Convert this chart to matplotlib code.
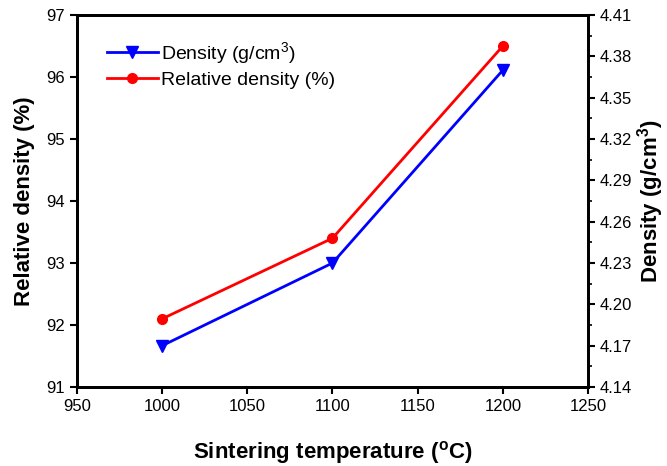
import matplotlib
matplotlib.use("Agg")
import matplotlib.pyplot as plt
from matplotlib.ticker import MultipleLocator, AutoMinorLocator
from matplotlib.lines import Line2D

plt.rcParams['font.family'] = ['Liberation Sans', 'DejaVu Sans']

temps = [1000, 1100, 1200]
rel_density = [92.1, 93.4, 96.5]
density = [4.17, 4.23, 4.37]

fig = plt.figure(figsize=(6.67, 4.66), dpi=100)
ax = fig.add_axes([0.1154, 0.1695, 0.7662, 0.7983])
ax2 = ax.twinx()

ax.plot(temps, rel_density, color='red', marker='o', markersize=7, lw=2, zorder=3)
ax2.plot(temps, density, color='blue', marker='v', markersize=9, lw=2, zorder=3)

ax.set_xlim(950, 1250)
ax.set_ylim(91, 97)
ax2.set_ylim(4.14, 4.41)
ax.xaxis.set_major_locator(MultipleLocator(50))
ax.yaxis.set_major_locator(MultipleLocator(1))
ax2.yaxis.set_major_locator(MultipleLocator(0.03))
ax2.yaxis.set_minor_locator(AutoMinorLocator(2))
ax2.yaxis.set_major_formatter(matplotlib.ticker.FormatStrFormatter('%.2f'))

for a in (ax, ax2):
    for s in a.spines.values():
        s.set_linewidth(2)
ax.tick_params(axis='both', which='major', direction='out', length=5, width=1.5, labelsize=12)
ax2.tick_params(axis='y', which='major', direction='out', length=5, width=1.5, labelsize=12)
ax2.tick_params(axis='y', which='minor', direction='out', length=3, width=1.2)

ax.set_xlabel('Sintering temperature ($\\mathregular{^{o}}$C)', fontsize=16, fontweight='bold', labelpad=18)
ax.set_ylabel('Relative density (%)', fontsize=16, fontweight='bold', labelpad=8)
ax2.set_ylabel('Density (g/cm$\\mathregular{^3}$)', fontsize=16, fontweight='bold', labelpad=2)

handles = [Line2D([], [], color='blue', marker='v', markersize=9, lw=2),
           Line2D([], [], color='red', marker='o', markersize=7, lw=2)]
labels = ['Density (g/cm$\\mathregular{^3}$)', 'Relative density (%)']
ax.legend(handles, labels, loc='upper left', bbox_to_anchor=(0.04, 0.96), frameon=False,
          fontsize=14, handlelength=2.6, handletextpad=0.15, labelspacing=0.3, borderpad=0)

fig.savefig('out.png', dpi=100)
